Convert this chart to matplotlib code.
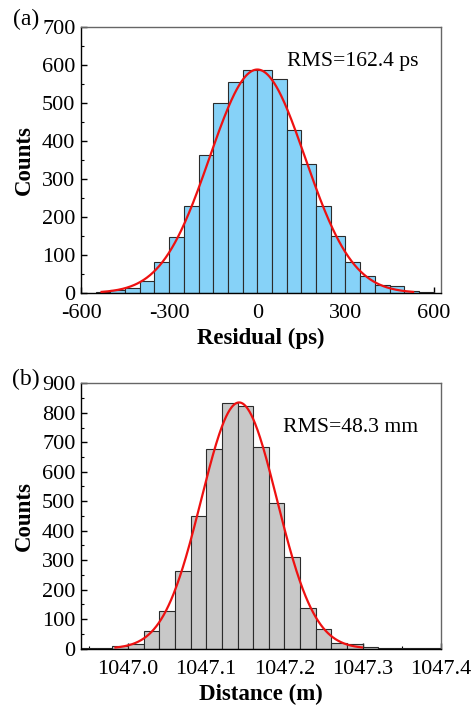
import numpy as np
import matplotlib.pyplot as plt
from matplotlib.ticker import MultipleLocator, AutoMinorLocator

plt.rcParams['font.family'] = ['Liberation Serif', 'DejaVu Serif']
plt.rcParams['axes.unicode_minus'] = False

# ─── Data ─────────────────────────────────────────────────────────────────────
# (a) residual histogram, bin width 50 ps
res_edges = np.arange(-550, 601, 50)
res_counts = [3, 9, 14, 31, 81, 147, 229, 363, 501, 554, 588,
              588, 563, 430, 340, 229, 151, 81, 46, 20, 18, 4, 3]
res_fit = dict(amp=588, mu=0.0, sigma=162.4, lo=-530, hi=530)

# (b) distance histogram, bin width 0.02 m
dist_edges = np.round(np.arange(1046.94, 1047.401, 0.02), 2)
dist_counts = [2, 2, 8, 17, 59, 127, 262, 450, 678, 833, 822,
               683, 494, 311, 137, 67, 20, 15, 7, 3, 2, 1, 3]
dist_fit = dict(amp=835, mu=1047.142, sigma=0.0483, lo=1046.984, hi=1047.299)

TICK_FS = 16
LABEL_FS = 16.5


def gauss_curve(p, n=400):
    x = np.linspace(p['lo'], p['hi'], n)
    return x, p['amp'] * np.exp(-(x - p['mu']) ** 2 / (2 * p['sigma'] ** 2))


def style_axis(ax):
    for s in ['top', 'right']:
        ax.spines[s].set_color('#666666')
    for s in ['left', 'bottom']:
        ax.spines[s].set_color('black')
    for s in ax.spines.values():
        s.set_linewidth(1.0)
    ax.tick_params(axis='both', which='both', direction='in',
                   top=False, right=False, labelsize=TICK_FS)
    ax.tick_params(axis='both', which='major', length=4, width=1.0)
    ax.tick_params(axis='both', which='minor', length=2, width=0.8)
    ax.tick_params(axis='x', pad=8)
    ax.tick_params(axis='y', pad=4)
    ax.yaxis.set_minor_locator(AutoMinorLocator(2))
    ax.xaxis.set_minor_locator(AutoMinorLocator(2))


def set_labels(ax, xlabel, xy_x, xy_y):
    ax.set_xlabel(xlabel, fontsize=LABEL_FS, fontweight='bold')
    ax.set_ylabel('Counts', fontsize=LABEL_FS, fontweight='bold')
    ax.xaxis.label.set_va('center')
    ax.yaxis.label.set_va('center')
    ax.xaxis.set_label_coords(0.5, xy_y)
    ax.yaxis.set_label_coords(xy_x, 0.5)


fig = plt.figure(figsize=(4.74, 7.06), dpi=100)

# ─── Panel (a) ────────────────────────────────────────────────────────────────
ax1 = fig.add_axes([0.1709, 0.585, 0.7595, 0.3768])
ax1.bar(res_edges[:-1], res_counts, width=np.diff(res_edges), align='edge',
        color='#86D2F8', edgecolor='#2b2b2b', linewidth=0.8, zorder=2)
xf, yf = gauss_curve(res_fit)
ax1.plot(xf, yf, color='#EE1111', lw=1.6, zorder=3)
ax1.set_xlim(-600, 625)
ax1.set_ylim(0, 700)
ax1.xaxis.set_major_locator(MultipleLocator(300))
ax1.yaxis.set_major_locator(MultipleLocator(100))
style_axis(ax1)
set_labels(ax1, 'Residual (ps)', -0.158, -0.169)
ax1.text(0.572, 0.872, 'RMS=162.4 ps', transform=ax1.transAxes,
         fontsize=15.6, va='center', ha='left')

# ─── Panel (b) ────────────────────────────────────────────────────────────────
ax2 = fig.add_axes([0.1709, 0.0812, 0.7595, 0.3759])
ax2.bar(dist_edges[:-1], dist_counts, width=np.diff(dist_edges), align='edge',
        color='#C8C8C8', edgecolor='#2b2b2b', linewidth=0.8, zorder=2)
xf, yf = gauss_curve(dist_fit)
ax2.plot(xf, yf, color='#EE1111', lw=1.6, zorder=3)
ax2.set_xlim(1046.94, 1047.40)
ax2.set_ylim(0, 900)
ax2.xaxis.set_major_locator(MultipleLocator(0.1))
ax2.yaxis.set_major_locator(MultipleLocator(100))
ax2.xaxis.set_major_formatter(plt.FuncFormatter(lambda v, p: f'{v:.1f}'))
style_axis(ax2)
set_labels(ax2, 'Distance (m)', -0.158, -0.171)
ax2.text(0.561, 0.834, 'RMS=48.3 mm', transform=ax2.transAxes,
         fontsize=15.6, va='center', ha='left')

# panel labels
fig.text(0.055, 0.973, '(a)', fontsize=17, ha='center', va='center')
fig.text(0.055, 0.463, '(b)', fontsize=17, ha='center', va='center')

fig.savefig('out.png', dpi=100)
